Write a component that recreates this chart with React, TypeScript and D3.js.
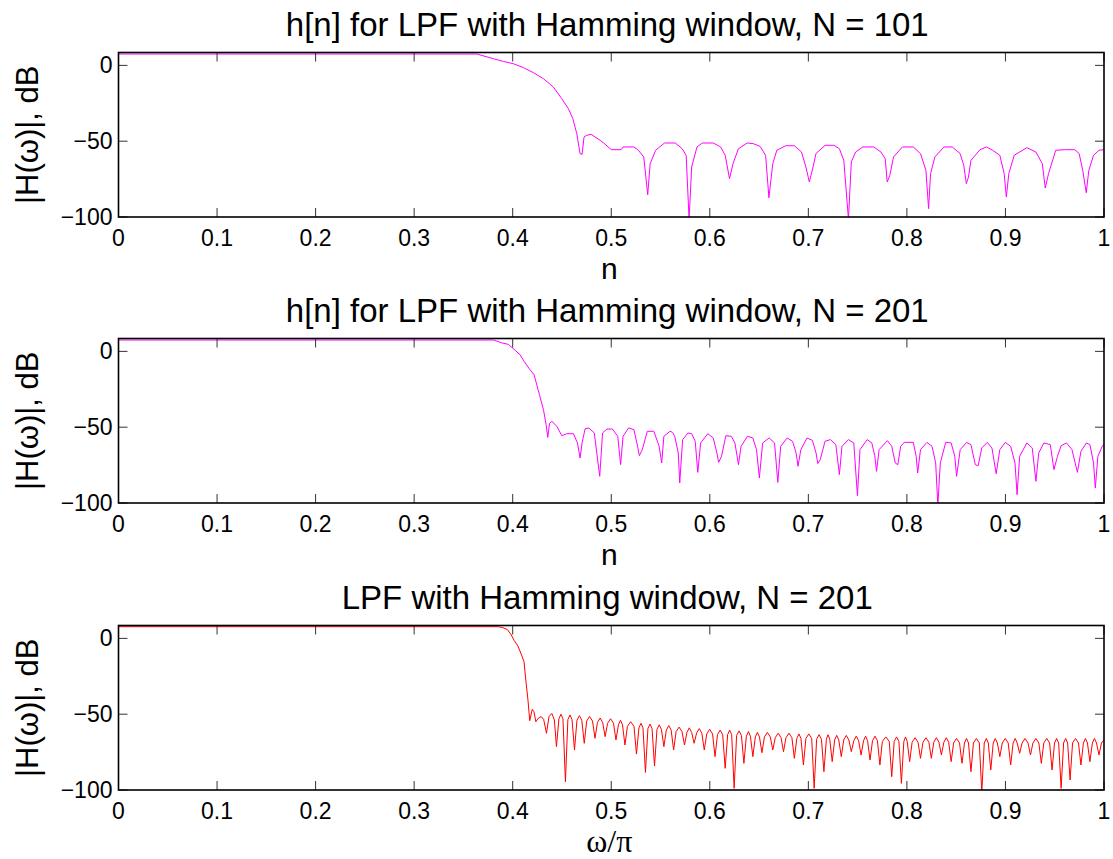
import React from "react";
import * as d3 from "d3";

type Pt = [number, number];

// ---- labels / ticks ----
const xTicks = [0, 0.1, 0.2, 0.3, 0.4, 0.5, 0.6, 0.7, 0.8, 0.9, 1];
const xTickLabels = ["0", "0.1", "0.2", "0.3", "0.4", "0.5", "0.6", "0.7", "0.8", "0.9", "1"];
const yTicks = [-100, -50, 0];
const yTickLabels = ["\u2212100", "\u221250", "0"];
const titles = [
  "h[n] for LPF with Hamming window, N = 101",
  "h[n] for LPF with Hamming window, N = 201",
  "LPF with Hamming window, N = 201",
];
const xLabels = ["n", "n", "\u03c9/\u03c0"];
const yLabel = "|H(\u03c9)|, dB";
const yDomain: [number, number] = [-100, 8.5];

// ---- series values: [x, dB] ----
const mag101: Pt[] = [
  [0, 7.5], [0.3636, 7.5], [0.3805, 4.4], [0.3906, 2.6], [0.4007, 1.1], [0.4109, -1.5], [0.421, -4.8],
  [0.4312, -8.8], [0.4413, -14.3], [0.4498, -22], [0.4565, -28.5], [0.461, -35.1], [0.465, -45],
  [0.4684, -58.2], [0.4704, -58.7], [0.4724, -47.2], [0.4752, -46.1], [0.4796, -45.5], [0.4836, -47.2],
  [0.4887, -49.4], [0.492, -51], [0.5, -55.6], [0.51, -55.6], [0.512, -53.8], [0.523, -53.8],
  [0.527, -55.6], [0.533, -60.4], [0.537, -85.3], [0.5395, -64.8], [0.545, -56], [0.554, -51.2],
  [0.565, -51.2], [0.572, -55], [0.576, -59.3], [0.579, -101.5], [0.5816, -67], [0.587, -53.8],
  [0.5925, -51.2], [0.6035, -51.2], [0.611, -53.8], [0.6156, -59.3], [0.62, -74.7], [0.6236, -64.8],
  [0.629, -55], [0.638, -51.2], [0.644, -51.6], [0.651, -53.4], [0.6566, -59.3], [0.66, -87.3],
  [0.6639, -64.8], [0.668, -56], [0.677, -53], [0.6858, -53], [0.693, -57.1], [0.6975, -67],
  [0.701, -76.9], [0.7048, -67], [0.7077, -58.2], [0.717, -52.7], [0.726, -52.7], [0.7315, -55],
  [0.736, -62.6], [0.7407, -101.5], [0.7436, -63.7], [0.748, -57.1], [0.7553, -53.8], [0.7663, -53.8],
  [0.7736, -57.1], [0.778, -61.5], [0.78, -76.9], [0.7827, -72.5], [0.7864, -60.4], [0.7955, -53.8],
  [0.8065, -53.8], [0.8138, -58.2], [0.8193, -69.2], [0.822, -94.5], [0.824, -71.4], [0.8284, -60.4],
  [0.8376, -53.8], [0.846, -53.8], [0.854, -58.2], [0.8577, -65.9], [0.8603, -78], [0.8625, -73.6],
  [0.865, -62.6], [0.8742, -55.6], [0.8808, -53.8], [0.887, -56], [0.8943, -59.3], [0.8987, -71.4],
  [0.9009, -86.8], [0.9034, -71.4], [0.9089, -59.3], [0.9217, -54.3], [0.9309, -57.1], [0.9374, -64.8],
  [0.9404, -80.9], [0.9437, -71.4], [0.951, -56], [0.9601, -55.6], [0.9704, -55.6], [0.9748, -58.2],
  [0.9784, -69.2], [0.982, -84], [0.9846, -69.2], [0.9894, -59.3], [0.9949, -56], [1.0, -55.6],
];

const mag201n: Pt[] = [
  [0, 7.5], [0.3805, 7.5], [0.389, 5.6], [0.3957, 4.6], [0.4025, 0.7], [0.4075, -2.2], [0.4116, -6.6],
  [0.417, -11.6], [0.4217, -15.4], [0.4271, -28.5], [0.4312, -38.4], [0.4339, -48.3], [0.4356, -56.7],
  [0.4373, -47.7], [0.4397, -46.1], [0.4448, -49.4], [0.4498, -55.6], [0.4549, -54.3], [0.4616, -54.3],
  [0.4657, -60.4], [0.4684, -70.3], [0.4705, -60], [0.4735, -51], [0.4773, -50.5], [0.4828, -53.8],
  [0.4883, -82.4], [0.4912, -53.8], [0.4956, -51.2], [0.5011, -51.2], [0.5066, -56], [0.5095, -74.7],
  [0.512, -56], [0.5176, -50.5], [0.523, -51.6], [0.5267, -62.6], [0.5285, -68.8], [0.5315, -64.8],
  [0.5366, -52.7], [0.5432, -52.7], [0.5486, -62.6], [0.5512, -73.6], [0.5534, -56], [0.5596, -52.7],
  [0.5622, -53.4], [0.5644, -56], [0.568, -67], [0.5695, -86.8], [0.5724, -58.2], [0.5779, -53.8],
  [0.5816, -54.3], [0.5852, -59.3], [0.5878, -79.8], [0.5907, -60.4], [0.598, -54.3], [0.6035, -57.1],
  [0.6072, -67], [0.609, -73.2], [0.6119, -69.2], [0.6163, -55.6], [0.6218, -56], [0.6255, -60.4],
  [0.6291, -74.7], [0.6317, -62.6], [0.6383, -56], [0.6437, -57.1], [0.6474, -64.8], [0.6503, -83.5],
  [0.6536, -60.4], [0.6602, -57.1], [0.6657, -60.4], [0.669, -86.4], [0.6719, -62.6], [0.6785, -57.1],
  [0.684, -59.3], [0.6876, -67], [0.6895, -75.8], [0.6924, -64.8], [0.6986, -57.1], [0.7041, -58.7],
  [0.7078, -67], [0.7096, -74], [0.7121, -71.4], [0.7169, -59.3], [0.7224, -58.2], [0.7279, -61.5],
  [0.7315, -81.3], [0.7341, -62.6], [0.7407, -58.2], [0.7461, -60.4], [0.7498, -95.2], [0.7524, -64.8],
  [0.7597, -58.2], [0.7644, -60.4], [0.7674, -68.8], [0.7692, -79.1], [0.7718, -64.8], [0.7802, -58.9],
  [0.7846, -62.6], [0.7882, -73.6], [0.7908, -74.7], [0.7937, -62.6], [0.7974, -60], [0.8065, -60],
  [0.8094, -69.2], [0.8109, -80.2], [0.8138, -64.8], [0.8204, -60], [0.8255, -62.6], [0.8292, -73.6],
  [0.8314, -101.5], [0.8339, -73.6], [0.8394, -60], [0.8449, -60.4], [0.8486, -69.2], [0.8504, -82.4],
  [0.8541, -64.8], [0.8606, -60], [0.865, -61.5], [0.8694, -74.7], [0.8723, -75.4], [0.876, -63.7],
  [0.8815, -60], [0.8863, -63.7], [0.8906, -80.7], [0.8943, -64.8], [0.8998, -60], [0.9053, -62.6],
  [0.9097, -73.6], [0.9118, -94.5], [0.9144, -69.2], [0.9217, -60.4], [0.9272, -63.7], [0.9309, -85.7],
  [0.9338, -67], [0.939, -60.4], [0.9455, -61.5], [0.9492, -78], [0.9528, -69.2], [0.9565, -62.2],
  [0.962, -60.4], [0.9675, -64.8], [0.973, -79.8], [0.9766, -65.9], [0.9821, -60.4], [0.9857, -61.5],
  [0.9894, -73.6], [0.9912, -90.1], [0.9938, -69.2], [0.9985, -62.2], [1.0, -61.5],
];

const mag201w: Pt[] = [
  [0, 7.7], [0.385, 7.7], [0.389, 7.3], [0.3944, 5.9], [0.398, 2.9], [0.4016, -1.5], [0.4053, -5],
  [0.409, -11], [0.4115, -15.4], [0.4133, -27.5], [0.4155, -40.7], [0.4173, -54.3], [0.4198, -46.8],
  [0.4216, -48.4], [0.4235, -55], [0.426, -52.7], [0.4289, -51.6], [0.4314, -53.4], [0.4343, -62.6],
  [0.4368, -51.6], [0.4397, -49.5], [0.4423, -53.8],
  [0.4444, -71.4], [0.4469, -53], [0.449, -50], [0.451, -53],
  [0.4535, -94.5], [0.456, -53.5], [0.4581, -50.5], [0.4602, -53.5],
  [0.4627, -73.6], [0.4652, -54], [0.4677, -51], [0.4701, -54],
  [0.4726, -69.2], [0.4751, -54.5], [0.478, -51.5], [0.481, -54.5],
  [0.4835, -65.9], [0.486, -55.5], [0.4887, -52.5], [0.4913, -55.5],
  [0.4938, -64.8], [0.4963, -56], [0.4993, -53], [0.5023, -56],
  [0.5048, -67], [0.5073, -57], [0.5094, -54], [0.5114, -57],
  [0.5139, -70.3], [0.5164, -58], [0.5198, -55], [0.5231, -58],
  [0.5256, -76.3], [0.5281, -59], [0.5302, -56], [0.5322, -59],
  [0.5347, -88.4], [0.5372, -59.5], [0.5393, -56.5], [0.5414, -59.5],
  [0.5439, -84.2], [0.5464, -60], [0.5487, -57], [0.5509, -60],
  [0.5534, -71.4], [0.5559, -60.5], [0.5584, -57.5], [0.5608, -60.5],
  [0.5633, -73.6], [0.5658, -61.5], [0.5688, -58.5], [0.5718, -61.5],
  [0.5743, -70.3], [0.5768, -62], [0.5792, -59], [0.5816, -62],
  [0.5841, -69.2], [0.5866, -62.5], [0.5893, -59.5], [0.5919, -62.5],
  [0.5944, -73.6], [0.5969, -63], [0.5999, -60], [0.6028, -63],
  [0.6053, -78], [0.6078, -63.5], [0.6105, -60.5], [0.6131, -63.5],
  [0.6156, -85.7], [0.6181, -63.5], [0.6202, -60.5], [0.6222, -63.5],
  [0.6247, -98.9], [0.6272, -64], [0.6297, -61], [0.6321, -64],
  [0.6346, -82.4], [0.6371, -64.5], [0.6392, -61.5], [0.6412, -64.5],
  [0.6437, -78], [0.6462, -65], [0.6483, -62], [0.6504, -65],
  [0.6529, -75.4], [0.6554, -65], [0.6584, -62], [0.6614, -65],
  [0.6639, -73.6], [0.6664, -65.5], [0.6694, -62.5], [0.6723, -65.5],
  [0.6748, -74.7], [0.6773, -65.5], [0.6803, -62.5], [0.6833, -65.5],
  [0.6858, -79.1], [0.6883, -66], [0.6904, -63], [0.6925, -66],
  [0.695, -83.5], [0.6975, -66], [0.7005, -63], [0.7034, -66],
  [0.7059, -98.9], [0.7084, -66.5], [0.7109, -63.5], [0.7133, -66.5],
  [0.7158, -87.9], [0.7183, -66.5], [0.72, -63.5], [0.7217, -66.5],
  [0.7242, -81.3], [0.7267, -67], [0.7288, -64], [0.7309, -67],
  [0.7334, -78], [0.7359, -67], [0.7385, -64], [0.7411, -67],
  [0.7436, -74.7], [0.7461, -67.5], [0.7486, -64.5], [0.751, -67.5],
  [0.7535, -76.9], [0.756, -67.5], [0.7581, -64.5], [0.7601, -67.5],
  [0.7626, -80.2], [0.7651, -67.5], [0.7676, -64.5], [0.7701, -67.5],
  [0.7726, -83.5], [0.7751, -68], [0.7786, -65], [0.7821, -68],
  [0.7846, -91.2], [0.7871, -68], [0.7895, -65], [0.7919, -68],
  [0.7944, -95.6], [0.7969, -68], [0.7986, -65], [0.8003, -68],
  [0.8028, -81.3], [0.8053, -68.5], [0.8083, -65.5], [0.8113, -68.5],
  [0.8138, -79.1], [0.8163, -68.5], [0.8193, -65.5], [0.8223, -68.5],
  [0.8248, -79.1], [0.8273, -68.5], [0.8299, -65.5], [0.8325, -68.5],
  [0.835, -76.9], [0.8375, -68.5], [0.84, -65.5], [0.8424, -68.5],
  [0.8449, -81.3], [0.8474, -69], [0.8504, -66], [0.8534, -69],
  [0.8559, -82.4], [0.8584, -69], [0.8605, -66], [0.8625, -69],
  [0.865, -87.9], [0.8675, -69], [0.8705, -66], [0.8735, -69],
  [0.876, -101.5], [0.8785, -69], [0.8806, -66], [0.8826, -69],
  [0.8851, -86.8], [0.8876, -69], [0.8897, -66], [0.8918, -69],
  [0.8943, -78], [0.8968, -69], [0.8998, -66], [0.9028, -69],
  [0.9053, -83.5], [0.9078, -69], [0.9099, -66], [0.9119, -69],
  [0.9144, -75.8], [0.9169, -69], [0.9199, -66], [0.9229, -69],
  [0.9254, -76.9], [0.9279, -69], [0.9309, -66], [0.9339, -69],
  [0.9364, -82.4], [0.9389, -69], [0.9419, -66], [0.9448, -69],
  [0.9473, -86.8], [0.9498, -69], [0.9519, -66], [0.954, -69],
  [0.9565, -98.9], [0.959, -69], [0.9611, -66], [0.9631, -69],
  [0.9656, -93.4], [0.9681, -69], [0.9711, -66], [0.9741, -69],
  [0.9766, -83.5], [0.9791, -69], [0.9812, -66], [0.9832, -69],
  [0.9857, -81.3], [0.9882, -69], [0.9903, -66], [0.9924, -69],
  [0.9949, -76.9], [0.9974, -69], [1.0, -67],
];

const seriesList = [mag101, mag201n, mag201w];
const seriesColors = ["#ff00ff", "#ff00ff", "#ff0000"];

// ---- layout ----
const W = 1113;
const H = 859;
const plotLeft = 118.5;
const plotRight = 1104;
const plotTops = [52.5, 338.5, 625.5];
const plotH = 164.5;
const sans = "Arial, 'Liberation Sans', Helvetica, sans-serif";

function Panel({ idx }: { idx: number }) {
  const top = plotTops[idx];
  const bottom = top + plotH;
  const x = d3.scaleLinear().domain([0, 1]).range([plotLeft, plotRight]);
  const y = d3.scaleLinear().domain(yDomain).range([bottom, top]);
  const line = d3
    .line<Pt>()
    .x((d) => x(d[0]))
    .y((d) => y(d[1]));
  const clipId = `clip${idx}`;
  const tl = 9;
  const midX = (plotLeft + plotRight) / 2;
  const midY = (top + bottom) / 2;
  return (
    <g>
      <defs>
        <clipPath id={clipId}>
          <rect x={plotLeft} y={top} width={plotRight - plotLeft} height={plotH} />
        </clipPath>
      </defs>
      <text x={midX - 4} y={top - 17} textAnchor="middle" fontFamily={sans} fontSize={33} fill="#000">
        {titles[idx]}
      </text>
      <path
        d={line(seriesList[idx]) || ""}
        fill="none"
        stroke={seriesColors[idx]}
        strokeWidth={1}
        clipPath={`url(#${clipId})`}
      />
      {xTicks.map((t, i) => (
        <g key={`xt${i}`}>
          <line x1={x(t)} x2={x(t)} y1={bottom} y2={bottom - tl} stroke="#333" strokeWidth={1} />
          <line x1={x(t)} x2={x(t)} y1={top} y2={top + tl} stroke="#333" strokeWidth={1} />
          <text x={x(t)} y={bottom + 29} textAnchor="middle" fontFamily={sans} fontSize={23} fill="#000">
            {xTickLabels[i]}
          </text>
        </g>
      ))}
      {yTicks.map((t, i) => (
        <g key={`yt${i}`}>
          <line x1={plotLeft} x2={plotLeft + tl} y1={y(t)} y2={y(t)} stroke="#333" strokeWidth={1} />
          <line x1={plotRight} x2={plotRight - tl} y1={y(t)} y2={y(t)} stroke="#333" strokeWidth={1} />
          <text x={plotLeft - 6} y={y(t) + 8} textAnchor="end" fontFamily={sans} fontSize={23} fill="#000">
            {yTickLabels[i]}
          </text>
        </g>
      ))}
      <rect
        x={plotLeft}
        y={top}
        width={plotRight - plotLeft}
        height={plotH}
        fill="none"
        stroke="#000"
        strokeWidth={1.6}
      />
      <text
        transform={`translate(38,${midY}) rotate(-90)`}
        textAnchor="middle"
        fontFamily={sans}
        fontSize={31}
        fill="#000"
      >
        {yLabel}
      </text>
      {idx < 2 ? (
        <text x={midX - 2} y={bottom + 62} textAnchor="middle" fontFamily={sans} fontSize={30} fill="#000">
          {xLabels[idx]}
        </text>
      ) : (
        <text
          x={midX - 2}
          y={bottom + 62}
          textAnchor="middle"
          fontFamily="'Liberation Serif', 'Times New Roman', serif"
          fontSize={32}
          fill="#000"
        >
          {xLabels[idx]}
        </text>
      )}
    </g>
  );
}

export default function App() {
  return (
    <svg
      width={W}
      height={H}
      viewBox={`0 0 ${W} ${H}`}
      style={{ position: "absolute", left: 0, top: 0, background: "#fff" }}
    >
      <rect x={0} y={0} width={W} height={H} fill="#fff" />
      {[0, 1, 2].map((i) => (
        <Panel key={i} idx={i} />
      ))}
    </svg>
  );
}
